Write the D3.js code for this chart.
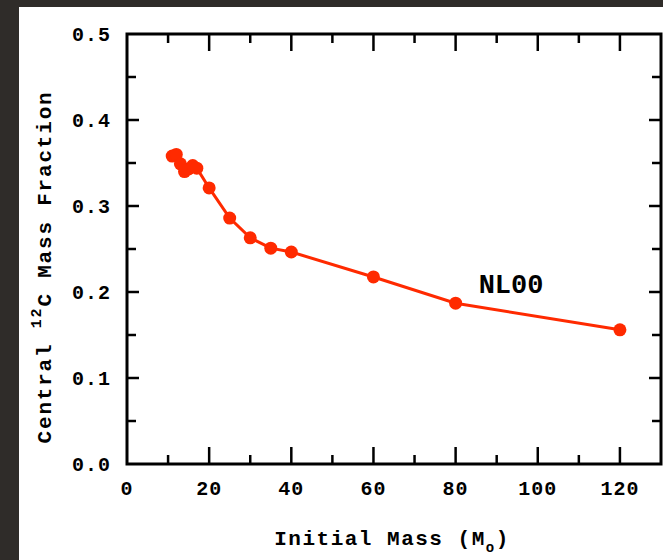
<!DOCTYPE html>
<html><head><meta charset="utf-8">
<script src="https://cdn.jsdelivr.net/npm/d3@7"></script>
<style>
html,body{margin:0;padding:0;background:#2f2c29;}
svg{display:block;}
</style></head>
<body>
<svg id="chart" width="663" height="560"></svg>
<script>
const masses = [11, 12, 13, 14, 15, 16, 17, 20, 25, 30, 35, 40, 60, 80, 120];
const carbon = [0.358, 0.360, 0.349, 0.340, 0.343, 0.347, 0.344, 0.321, 0.286, 0.263, 0.251, 0.2465, 0.2175, 0.187, 0.156];
const xTicks = [0, 20, 40, 60, 80, 100, 120];
const yTicks = [0.0, 0.1, 0.2, 0.3, 0.4, 0.5];
const seriesLabel = "NL00";

const svg = d3.select("#chart");
const W = 663, H = 560;
const L = 127, R = 661, T = 34, B = 464;
svg.append("rect").attr("x", 19).attr("y", 7).attr("width", W - 19).attr("height", H - 7).attr("fill", "#ffffff");

const x = d3.scaleLinear().domain([0, 130]).range([L, R]);
const y = d3.scaleLinear().domain([0, 0.5]).range([B, T]);
const font = "'Liberation Mono','Courier New',monospace";

// ticks
const xMinor = d3.range(0, 131, 10);
const yMinor = d3.range(0, 0.5001, 0.05);
const g = svg.append("g").attr("stroke", "#000").attr("stroke-width", 2.5);
xMinor.forEach(v => {
  const major = Math.round(v) % 20 === 0;
  const len = major ? 17 : 9;
  if (v > 0 && v < 130) {
    g.append("line").attr("x1", x(v)).attr("x2", x(v)).attr("y1", B).attr("y2", B - len);
    g.append("line").attr("x1", x(v)).attr("x2", x(v)).attr("y1", T).attr("y2", T + len);
  }
});
yMinor.forEach(v => {
  const major = Math.round(v * 100) % 10 === 0;
  const len = major ? 12 : 9;
  if (v > 0.001 && v < 0.499) {
    g.append("line").attr("x1", L).attr("x2", L + len).attr("y1", y(v)).attr("y2", y(v));
    g.append("line").attr("x1", R).attr("x2", R - len).attr("y1", y(v)).attr("y2", y(v));
  }
});
svg.append("rect").attr("x", L).attr("y", T).attr("width", R - L).attr("height", B - T)
  .attr("fill", "none").attr("stroke", "#000").attr("stroke-width", 3);

// tick labels
svg.append("g").selectAll("text").data(xTicks).join("text")
  .attr("x", d => x(d)).attr("y", 495).attr("text-anchor", "middle")
  .attr("font-family", font).attr("font-weight", "bold").attr("font-size", 20)
  .attr("letter-spacing", 1).attr("fill", "#000").text(d => d);
svg.append("g").selectAll("text").data(yTicks).join("text")
  .attr("x", 111).attr("y", d => y(d) + 7).attr("text-anchor", "end")
  .attr("font-family", font).attr("font-weight", "bold").attr("font-size", 20)
  .attr("letter-spacing", 1).attr("fill", "#000").text(d => d.toFixed(1));

// axis titles
const xt = svg.append("text").attr("x", 392).attr("y", 545).attr("text-anchor", "middle")
  .attr("font-family", font).attr("font-weight", "bold").attr("font-size", 21)
  .attr("letter-spacing", 1.5).attr("fill", "#000");
xt.append("tspan").text("Initial Mass (M");
xt.append("tspan").attr("font-size", 14).attr("dy", 7).text("o");
xt.append("tspan").attr("dy", -7).text(")");

const yt = svg.append("text").attr("transform", "translate(51,267) rotate(-90)").attr("text-anchor", "middle")
  .attr("font-family", font).attr("font-weight", "bold").attr("font-size", 21)
  .attr("letter-spacing", 1.8).attr("fill", "#000");
yt.append("tspan").text("Central ");
yt.append("tspan").attr("font-size", 15).attr("dy", -10).text("12");
yt.append("tspan").attr("dy", 10).text("C Mass Fraction");

// series
const pts = masses.map((m, i) => [m, carbon[i]]);
const red = "#ff2a00";
svg.append("path").datum(pts)
  .attr("d", d3.line().x(d => x(d[0])).y(d => y(d[1])))
  .attr("fill", "none").attr("stroke", red).attr("stroke-width", 3);
svg.append("g").selectAll("circle").data(pts).join("circle")
  .attr("cx", d => x(d[0])).attr("cy", d => y(d[1])).attr("r", 6.5).attr("fill", red);

svg.append("text").attr("x", x(93.5)).attr("y", 293).attr("text-anchor", "middle")
  .attr("font-family", font).attr("font-weight", "bold").attr("font-size", 27)
  .attr("fill", "#000").text(seriesLabel);
</script>
</body></html>
